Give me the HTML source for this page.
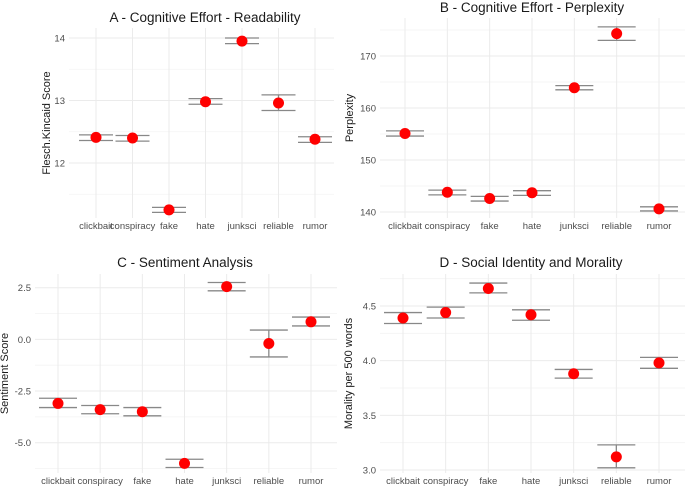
<!DOCTYPE html>
<html><head><meta charset="utf-8"><style>
html,body{margin:0;padding:0;background:#fff;}
svg{display:block;font-family:"Liberation Sans",sans-serif;}
</style></head><body>
<svg id="c" width="685" height="490" xmlns="http://www.w3.org/2000/svg"></svg>
<script>
const categories = ["clickbait","conspiracy","fake","hate","junksci","reliable","rumor"];
const readMean = [12.41,12.40,11.25,12.98,13.95,12.96,12.38];
const readLo   = [12.36,12.35,11.21,12.94,13.91,12.84,12.33];
const readHi   = [12.45,12.44,11.29,13.03,14.00,13.09,12.42];
const readTicks = [12,13,14];
const perpMean = [155.1,143.8,142.6,143.7,163.9,174.3,140.6];
const perpLo   = [154.6,143.3,142.1,143.2,163.5,173.0,140.2];
const perpHi   = [155.6,144.2,143.0,144.1,164.3,175.6,141.0];
const perpTicks = [140,150,160,170];
const sentMean = [-3.1,-3.4,-3.5,-6.0,2.55,-0.2,0.85];
const sentLo   = [-3.3,-3.6,-3.7,-6.2,2.35,-0.85,0.65];
const sentHi   = [-2.85,-3.2,-3.3,-5.8,2.75,0.45,1.08];
const sentTicks = [-5.0,-2.5,0.0,2.5];
const morMean = [4.39,4.44,4.66,4.42,3.88,3.12,3.98];
const morLo   = [4.34,4.39,4.62,4.37,3.84,3.02,3.93];
const morHi   = [4.44,4.49,4.71,4.465,3.92,3.23,4.03];
const morTicks = [3.0,3.5,4.0,4.5];

const svg = document.getElementById('c');
const NS = 'http://www.w3.org/2000/svg';
function el(tag, attrs, parent){const e=document.createElementNS(NS,tag);for(const k in attrs)e.setAttribute(k,attrs[k]);(parent||svg).appendChild(e);return e;}

function panel(p){
  const g = el('g',{});
  
  
  const ys = v => p.py0 + (v - p.v0) * (p.py1 - p.py0) / (p.v1 - p.v0);
  const n = categories.length;
  const step = (p.cx1 - p.cx0) / (n - 1);
  const xs = i => p.cx0 + i * step;
  for (let i=0;i<p.ticks.length+1;i++){
    const v = p.ticks[0] + (i-0.5)*(p.ticks[1]-p.ticks[0]);
    const y = ys(v);
    if (y>p.top && y<p.bottom){
      const ln = el('line',{x1:p.left,x2:p.right,y1:y,y2:y,stroke:'#f3f3f3','stroke-width':0.8},g);
      
      
    }
  }
  p.ticks.forEach(t=>{
    const y = ys(t);
    const ln = el('line',{x1:p.left,x2:p.right,y1:y,y2:y,stroke:'#ebebeb','stroke-width':1},g);
    
    
    const tx = el('text',{x:p.left-4,y:y+3.5,'text-anchor':'end','font-size':9.5,fill:'#4d4d4d'},g);
    tx.textContent = p.fmt(t);
    
    
  });
  categories.forEach((c,i)=>{
    const x = xs(i);
    const ln = el('line',{x1:x,x2:x,y1:p.top,y2:p.bottom,stroke:'#ebebeb','stroke-width':1},g);
    
    
    const tx = el('text',{x:x,y:p.bottom+11,'text-anchor':'middle','font-size':9.5,fill:'#4d4d4d'},g);
    tx.textContent = c;
    
    
  });
  categories.forEach((c,i)=>{
    const x = xs(i), hw = p.hw;
    const eg = el('g',{stroke:'#888','stroke-width':1.3},g);
    
    
    el('line',{x1:x,x2:x,y1:ys(p.lo[i]),y2:ys(p.hi[i])},eg);
    el('line',{x1:x-hw,x2:x+hw,y1:ys(p.lo[i]),y2:ys(p.lo[i])},eg);
    el('line',{x1:x-hw,x2:x+hw,y1:ys(p.hi[i]),y2:ys(p.hi[i])},eg);
    const pt = el('circle',{cx:x,cy:ys(p.mean[i]),r:5.5,fill:'#ff0000'},g);
    
    
  });
  const t = el('text',{x:p.titleX,y:p.titleY,'text-anchor':'middle','font-size':13.5,fill:'#1a1a1a'},g);
  t.textContent = p.title;
  
  
  const ym = (p.top+p.bottom)/2;
  const yt = el('text',{x:p.ytX,y:ym,'text-anchor':'middle','font-size':11,fill:'#1a1a1a',transform:`rotate(-90 ${p.ytX} ${ym})`},g);
  yt.textContent = p.ytitle;
  
  
}

panel({id:'a',title:'A - Cognitive Effort - Readability',ytitle:'Flesch.Kincaid Score',
  mean:readMean,lo:readLo,hi:readHi,ticks:readTicks,fmt:v=>String(v),
  v0:12,py0:163,v1:14,py1:38,cx0:96,cx1:315,hw:17,
  left:69,right:334,top:28,bottom:218,titleX:205,titleY:22,ytX:50});
panel({id:'b',title:'B - Cognitive Effort - Perplexity',ytitle:'Perplexity',
  mean:perpMean,lo:perpLo,hi:perpHi,ticks:perpTicks,fmt:v=>String(v),
  v0:140,py0:212,v1:170,py1:56,cx0:405,cx1:659,hw:19,
  left:380,right:685,top:18,bottom:218,titleX:532,titleY:12,ytX:353});
panel({id:'c',title:'C - Sentiment Analysis',ytitle:'Sentiment Score',
  mean:sentMean,lo:sentLo,hi:sentHi,ticks:sentTicks,fmt:v=>v.toFixed(1),
  v0:-5,py0:442.7,v1:2.5,py1:287.7,cx0:58,cx1:311,hw:19,
  left:35,right:337,top:274,bottom:473,titleX:185,titleY:267,ytX:8});
panel({id:'d',title:'D - Social Identity and Morality',ytitle:'Morality per 500 words',
  mean:morMean,lo:morLo,hi:morHi,ticks:morTicks,fmt:v=>v.toFixed(1),
  v0:3,py0:470,v1:4.5,py1:306,cx0:403,cx1:659,hw:19,
  left:380,right:685,top:274,bottom:473,titleX:531,titleY:267,ytX:352});
</script>
</body></html>
